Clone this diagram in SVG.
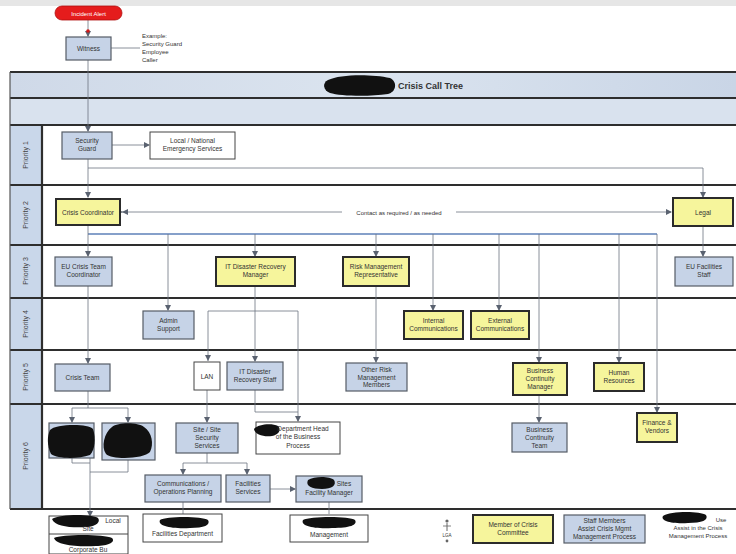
<svg xmlns="http://www.w3.org/2000/svg" width="736" height="554" viewBox="0 0 736 554">
  <style>
    text { font-family: "Liberation Sans", Arial, sans-serif; font-size: 6.5px; fill: #333; text-anchor: middle; }
    .lane { font-size: 7px; fill: #444; }
    .title { font-size: 9px; font-weight: bold; fill: #333; text-anchor: start; }
    .side { text-anchor: start; font-size: 6px; }
    .blue { fill: #c6d3e7; stroke: #555c66; stroke-width: 1.2; }
    .yellow { fill: #f6f59c; stroke: #2b2b2b; stroke-width: 2; }
    .white { fill: #ffffff; stroke: #444; stroke-width: 1; }
    .blob { fill: #111; }
    .conn { fill: none; stroke: #6d7480; stroke-width: 0.8; }
    .bus { fill: none; stroke: #5e80b8; stroke-width: 1.6; }
    .sep { stroke: #2e2e2e; stroke-width: 2.2; }
  </style>
  <defs>
    <marker id="arr" markerWidth="6" markerHeight="6" refX="5" refY="3" orient="auto" markerUnits="userSpaceOnUse">
      <path d="M0,0 L6,3 L0,6 Z" fill="#5a6270"/>
    </marker>
    <linearGradient id="hdr" x1="0" y1="0" x2="1" y2="0">
      <stop offset="0" stop-color="#cfd9e8"/>
      <stop offset="0.5" stop-color="#dbe4ef"/>
      <stop offset="1" stop-color="#c9d5e6"/>
    </linearGradient>
  </defs>

  <!-- page -->
  <rect x="0" y="0" width="736" height="554" fill="#ffffff"/>
  <rect x="0" y="0" width="736" height="6" fill="#e6e6e6"/>

  <!-- swimlane frame -->
  <g id="lanes">
    <rect x="10" y="72" width="726" height="26" fill="url(#hdr)"/>
    <rect x="10" y="98" width="726" height="27" fill="#d9e2ee"/>
    <rect x="10" y="125" width="32" height="384" fill="#c9d7ea"/>
    <line x1="10" y1="72" x2="736" y2="72" class="sep"/>
    <line x1="10" y1="98" x2="736" y2="98" class="sep" stroke-width="1.5"/>
    <line x1="10" y1="125" x2="736" y2="125" class="sep"/>
    <line x1="10" y1="185" x2="736" y2="185" class="sep"/>
    <line x1="10" y1="245" x2="736" y2="245" class="sep"/>
    <line x1="10" y1="298" x2="736" y2="298" class="sep"/>
    <line x1="10" y1="350" x2="736" y2="350" class="sep"/>
    <line x1="10" y1="404" x2="736" y2="404" class="sep"/>
    <line x1="10" y1="509" x2="736" y2="509" class="sep"/>
    <line x1="10" y1="72" x2="10" y2="509" stroke="#555" stroke-width="1.2"/>
    <line x1="42" y1="125" x2="42" y2="509" class="sep"/>
    <text class="lane" transform="translate(28,155) rotate(-90)">Priority 1</text>
    <text class="lane" transform="translate(28,215) rotate(-90)">Priority 2</text>
    <text class="lane" transform="translate(28,271) rotate(-90)">Priority 3</text>
    <text class="lane" transform="translate(28,324) rotate(-90)">Priority 4</text>
    <text class="lane" transform="translate(28,377) rotate(-90)">Priority 5</text>
    <text class="lane" transform="translate(28,456) rotate(-90)">Priority 6</text>
  </g>

  <!-- title -->
  <g id="title">
    <path class="blob" d="M328,80 C340,74 372,74 390,78 C398,82 396,92 388,94 C368,97 340,96 330,93 C323,90 322,83 328,80 Z"/>
    <text class="title" x="398" y="89">Crisis Call Tree</text>
  </g>

  <!-- connectors -->
  <g id="connectors">
    <line class="conn" x1="88" y1="20" x2="88" y2="36" marker-end="url(#arr)"/>
    <line class="conn" x1="111" y1="48" x2="140" y2="48" stroke="#4a5a80"/>
    <line class="conn" x1="88" y1="60" x2="88" y2="131" marker-end="url(#arr)"/>
    <line class="conn" x1="112" y1="145" x2="149" y2="145" marker-end="url(#arr)"/>
    <line class="conn" x1="88" y1="159" x2="88" y2="197" marker-end="url(#arr)"/>
    <polyline class="conn" points="88,168 703,168 703,197" marker-end="url(#arr)"/>
    <line class="conn" x1="122" y1="212" x2="342" y2="212" marker-start="url(#arr)"/>
    <line class="conn" x1="456" y1="212" x2="671" y2="212" marker-end="url(#arr)"/>
    <path d="M122,212 l6,-3 v6 z" fill="#5a6270"/>
    <line class="conn" x1="703" y1="226" x2="703" y2="256" marker-end="url(#arr)"/>
    <!-- distribution bus -->
    <line class="bus" x1="88" y1="234" x2="657" y2="234"/>
    <line class="conn" x1="88" y1="222" x2="88" y2="256" marker-end="url(#arr)"/>
    <line class="conn" x1="168" y1="234" x2="168" y2="310" marker-end="url(#arr)"/>
    <line class="conn" x1="255" y1="234" x2="255" y2="256" marker-end="url(#arr)"/>
    <line class="conn" x1="376" y1="234" x2="376" y2="256" marker-end="url(#arr)"/>
    <line class="conn" x1="433" y1="234" x2="433" y2="310" marker-end="url(#arr)"/>
    <line class="conn" x1="499" y1="234" x2="499" y2="310" marker-end="url(#arr)"/>
    <line class="conn" x1="539" y1="234" x2="539" y2="362" marker-end="url(#arr)"/>
    <line class="conn" x1="619" y1="234" x2="619" y2="362" marker-end="url(#arr)"/>
    <line class="conn" x1="657" y1="234" x2="657" y2="412" marker-end="url(#arr)"/>
    <!-- priority 3 to 5 -->
    <line class="conn" x1="88" y1="286" x2="88" y2="363" marker-end="url(#arr)"/>
    <line class="conn" x1="255" y1="286" x2="255" y2="361" marker-end="url(#arr)"/>
    <polyline class="conn" points="208,361 208,311 298,311 298,421" marker-end="url(#arr)"/>
    <path d="M208,361 l-3,-6 h6 z" fill="#5a6270"/>
    <line class="conn" x1="376" y1="286" x2="376" y2="362" marker-end="url(#arr)"/>
    <!-- priority 5 to 6 -->
    <polyline class="conn" points="88,391 88,408 72,408 72,422" marker-end="url(#arr)"/>
    <polyline class="conn" points="88,408 128,408 128,422" marker-end="url(#arr)"/>
    <line class="conn" x1="207" y1="390" x2="207" y2="422" marker-end="url(#arr)"/>
    <polyline class="conn" points="255,390 255,412 298,412"/>
    <line class="conn" x1="539" y1="395" x2="539" y2="422" marker-end="url(#arr)"/>
    <!-- priority 6 internal -->
    <polyline class="conn" points="207,453 207,463 183,463 183,474" marker-end="url(#arr)"/>
    <polyline class="conn" points="207,463 247,463 247,474" marker-end="url(#arr)"/>
    <line class="conn" x1="270" y1="489" x2="295" y2="489" marker-end="url(#arr)"/>
    <polyline class="conn" points="72,458 72,463 90,463"/>
    <polyline class="conn" points="128,460 128,472 90,472"/>
    <line class="conn" x1="90" y1="458" x2="90" y2="516" marker-end="url(#arr)"/>
    <line class="conn" x1="183" y1="502" x2="183" y2="514"/>
    <line class="conn" x1="329" y1="502" x2="329" y2="514"/>
  </g>

  <!-- trigger -->
  <g id="alert">
    <rect x="55" y="6" width="67" height="14" rx="7" fill="#e51c1c" stroke="#b01010" stroke-width="0.8"/>
    <text x="88.5" y="15.5" style="fill:#fff;font-size:6px">Incident Alert</text>
    <circle cx="88" cy="31" r="1.8" fill="#d01818"/>
  </g>
  <g id="witness">
    <rect x="66" y="37" width="45" height="23" class="blue"/>
    <text x="88.5" y="51">Witness</text>
    <text class="side" x="142" y="38">Example:</text>
    <text class="side" x="142" y="46">Security Guard</text>
    <text class="side" x="142" y="54">Employee</text>
    <text class="side" x="142" y="62">Caller</text>
  </g>

  <!-- priority 1 -->
  <g id="security-guard">
    <rect x="62" y="132" width="50" height="27" class="blue"/>
    <text x="87" y="143">Security</text><text x="87" y="151">Guard</text>
  </g>
  <g id="emergency-services">
    <rect x="150" y="132" width="85" height="27" class="white"/>
    <text x="192.5" y="143">Local / National</text><text x="192.5" y="151">Emergency Services</text>
  </g>

  <!-- priority 2 -->
  <g id="crisis-coordinator">
    <rect x="56" y="199" width="64" height="26" class="yellow"/>
    <text x="88" y="214.5">Crisis Coordinator</text>
  </g>
  <g id="contact-label">
    <text x="399" y="214.5" style="font-size:6px">Contact as required / as needed</text>
  </g>
  <g id="legal">
    <rect x="673" y="198" width="60" height="28" class="yellow"/>
    <text x="703" y="214.5">Legal</text>
  </g>

  <!-- priority 3 -->
  <g id="eu-crisis-team-coordinator">
    <rect x="55" y="257" width="57" height="29" class="blue"/>
    <text x="83.5" y="269">EU Crisis Team</text><text x="83.5" y="277">Coordinator</text>
  </g>
  <g id="it-dr-manager">
    <rect x="216" y="257" width="79" height="29" class="yellow"/>
    <text x="255.5" y="269">IT Disaster Recovery</text><text x="255.5" y="277">Manager</text>
  </g>
  <g id="risk-management-rep">
    <rect x="343" y="257" width="66" height="29" class="yellow"/>
    <text x="376" y="269">Risk Management</text><text x="376" y="277">Representative</text>
  </g>
  <g id="eu-facilities-staff">
    <rect x="675" y="257" width="58" height="29" class="blue"/>
    <text x="704" y="269">EU Facilities</text><text x="704" y="277">Staff</text>
  </g>

  <!-- priority 4 -->
  <g id="admin-support">
    <rect x="143" y="311" width="51" height="28" class="blue"/>
    <text x="168.5" y="323">Admin</text><text x="168.5" y="331">Support</text>
  </g>
  <g id="internal-comms">
    <rect x="404" y="311" width="59" height="28" class="yellow"/>
    <text x="433.5" y="323">Internal</text><text x="433.5" y="331">Communications</text>
  </g>
  <g id="external-comms">
    <rect x="471" y="311" width="58" height="28" class="yellow"/>
    <text x="500" y="323">External</text><text x="500" y="331">Communications</text>
  </g>

  <!-- priority 5 -->
  <g id="crisis-team">
    <rect x="55" y="364" width="55" height="27" class="blue"/>
    <text x="82.5" y="380">Crisis Team</text>
  </g>
  <g id="lan">
    <rect x="194" y="362" width="26" height="28" class="white"/>
    <text x="207" y="378.5">LAN</text>
  </g>
  <g id="it-dr-staff">
    <rect x="227" y="362" width="56" height="28" class="blue"/>
    <text x="255" y="374">IT Disaster</text><text x="255" y="382">Recovery Staff</text>
  </g>
  <g id="other-risk-members">
    <rect x="346" y="363" width="61" height="28" class="blue"/>
    <text x="376.5" y="372">Other Risk</text><text x="376.5" y="379.5">Management</text><text x="376.5" y="387">Members</text>
  </g>
  <g id="bc-manager">
    <rect x="513" y="363" width="54" height="32" class="yellow"/>
    <text x="540" y="373">Business</text><text x="540" y="381">Continuity</text><text x="540" y="389">Manager</text>
  </g>
  <g id="human-resources">
    <rect x="594" y="363" width="50" height="28" class="yellow"/>
    <text x="619" y="375">Human</text><text x="619" y="383">Resources</text>
  </g>

  <!-- priority 6 -->
  <g id="redacted-1">
    <rect x="49" y="423" width="45" height="35" class="blue"/>
    <path class="blob" d="M50,430 C55,424 88,423 93,429 C96,438 95,450 90,455 C78,459 58,459 51,454 C47,446 47,436 50,430 Z"/>
  </g>
  <g id="redacted-2">
    <rect x="102" y="423" width="53" height="37" class="blue"/>
    <path class="blob" d="M112,427 C118,422 138,422 144,427 C152,432 154,444 150,452 C144,459 112,460 106,454 C101,447 104,433 112,427 Z"/>
  </g>
  <g id="site-security">
    <rect x="176" y="423" width="62" height="30" class="blue"/>
    <text x="207" y="432">Site / Site</text><text x="207" y="440">Security</text><text x="207" y="448">Services</text>
  </g>
  <g id="department-head">
    <rect x="256" y="422" width="84" height="32" class="white"/>
    <path class="blob" d="M254,429 C258,424 272,423 278,426 C282,430 278,435 272,436 C264,437 255,435 254,429 Z"/>
    <text x="303" y="431">Department Head</text><text x="298" y="439">of the Business</text><text x="298" y="448">Process</text>
  </g>
  <g id="bc-team">
    <rect x="512" y="423" width="55" height="29" class="blue"/>
    <text x="539.5" y="432">Business</text><text x="539.5" y="440">Continuity</text><text x="539.5" y="448">Team</text>
  </g>
  <g id="finance-vendors">
    <rect x="637" y="413" width="40" height="29" class="yellow"/>
    <text x="657" y="425">Finance &amp;</text><text x="657" y="433">Vendors</text>
  </g>
  <g id="communications-operations">
    <rect x="145" y="475" width="76" height="27" class="blue"/>
    <text x="183" y="486">Communications /</text><text x="183" y="494">Operations Planning</text>
  </g>
  <g id="facilities-services">
    <rect x="226" y="475" width="44" height="27" class="blue"/>
    <text x="248" y="486">Facilities</text><text x="248" y="494">Services</text>
  </g>
  <g id="facility-manager">
    <rect x="296" y="476" width="66" height="26" class="blue"/>
    <path class="blob" d="M308,480 C314,476 330,476 334,480 C337,485 332,489 322,489 C312,489 305,486 308,480 Z"/>
    <text x="344" y="486">Sites</text><text x="329" y="495">Facility Manager</text>
  </g>

  <!-- below lanes -->
  <g id="site-corporate">
    <rect x="49" y="516" width="79" height="38" class="white"/>
    <line x1="49" y1="534" x2="128" y2="534" stroke="#444" stroke-width="1"/>
    <path class="blob" d="M52,519 C60,514 92,514 98,518 C101,522 96,526 88,527 C72,528 55,527 52,519 Z"/>
    <text x="113" y="523">Local</text><text x="88" y="531">Site</text>
    <path class="blob" d="M54,538 C62,534 104,534 112,538 C116,542 108,546 96,546 C76,547 56,545 54,538 Z"/>
    <text x="88" y="552">Corporate Bu</text>
  </g>
  <g id="facilities-department">
    <rect x="143" y="514" width="79" height="28" class="white"/>
    <path class="blob" d="M160,520 C166,516 202,516 208,520 C211,525 204,528 190,528 C172,529 157,526 160,520 Z"/>
    <text x="182.5" y="536">Facilities Department</text>
  </g>
  <g id="management">
    <rect x="290" y="515" width="78" height="27" class="white"/>
    <path class="blob" d="M303,520 C310,516 350,516 355,520 C358,525 350,528 332,528 C314,529 300,526 303,520 Z"/>
    <text x="329" y="537">Management</text>
  </g>

  <!-- legend -->
  <g id="legend-person">
    <circle cx="447" cy="521" r="1.6" fill="#666"/>
    <line x1="447" y1="523" x2="447" y2="531" stroke="#666" stroke-width="1"/>
    <line x1="443" y1="526" x2="451" y2="526" stroke="#666" stroke-width="0.8"/>
    <text x="447" y="537" style="font-size:4.5px">LGA</text>
    <circle cx="447" cy="541" r="1.4" fill="#666"/>
  </g>
  <g id="legend-committee">
    <rect x="473" y="515" width="80" height="28" class="yellow"/>
    <text x="513" y="527">Member of Crisis</text><text x="513" y="535">Committee</text>
  </g>
  <g id="legend-staff">
    <rect x="564" y="515" width="81" height="28" class="blue"/>
    <text x="604.5" y="523">Staff Members</text><text x="604.5" y="531">Assist Crisis Mgmt</text><text x="604.5" y="539">Management Process</text>
  </g>
  <g id="legend-other">
    <rect x="660" y="515" width="76" height="28" fill="#fff"/>
    <path class="blob" d="M663,516 C670,511 700,511 706,515 C709,520 702,523 688,523 C672,524 660,521 663,516 Z"/>
    <text x="721" y="522" style="font-size:6px">Use</text>
    <text x="698" y="530" style="font-size:6px">Assist in the Crisis</text>
    <text x="698" y="538" style="font-size:6px">Management Process</text>
  </g>
</svg>
